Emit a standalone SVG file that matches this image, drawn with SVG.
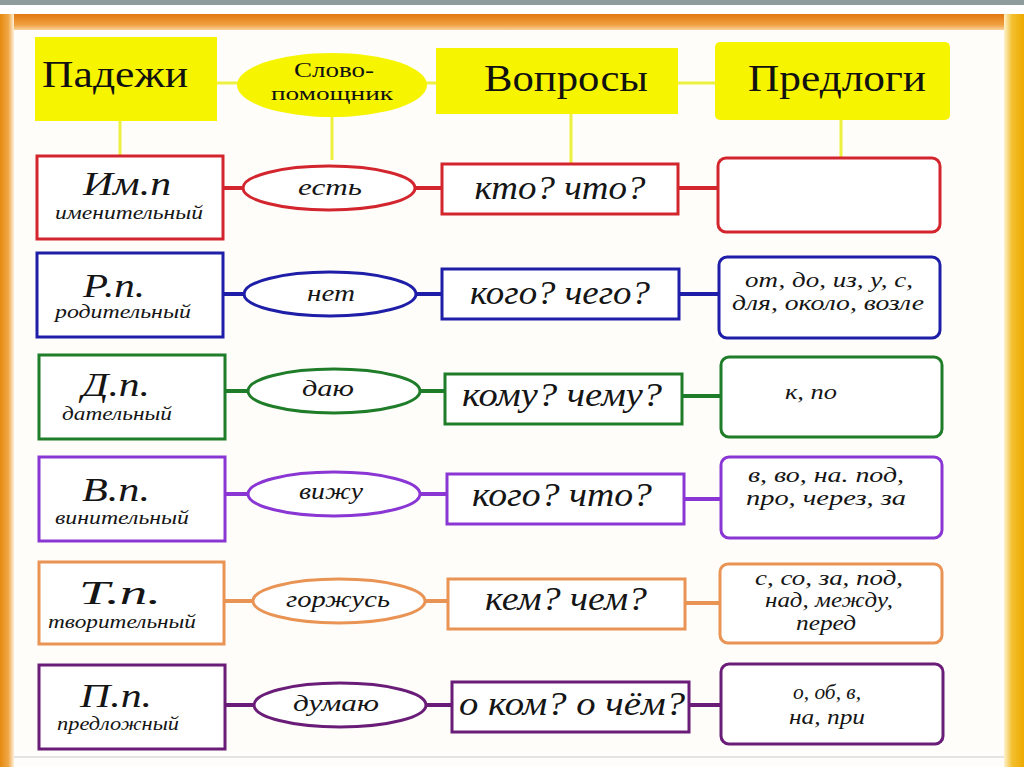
<svg xmlns="http://www.w3.org/2000/svg" width="1024" height="767" viewBox="0 0 1024 767" font-family="Liberation Serif, Times New Roman, serif">
<defs>
<linearGradient id="topband" x1="0" y1="0" x2="0" y2="1">
<stop offset="0" stop-color="#e27610"/><stop offset="0.6" stop-color="#f0a040"/><stop offset="1" stop-color="#fde6c0"/>
</linearGradient>
<linearGradient id="leftband" x1="0" y1="0" x2="1" y2="0">
<stop offset="0" stop-color="#e58a10"/><stop offset="0.6" stop-color="#f0a848"/><stop offset="1" stop-color="#fdf0dc"/>
</linearGradient>
<linearGradient id="rightband" x1="0" y1="0" x2="1" y2="0">
<stop offset="0" stop-color="#fdf2d0"/><stop offset="0.4" stop-color="#f3c030"/><stop offset="1" stop-color="#eeaa00"/>
</linearGradient>
</defs>
<style>
.hdr{fill:#f7f400}
.hl{stroke:#eef040;stroke-width:3;fill:none}
.ht{fill:#111;text-anchor:middle}
.box{fill:#fff;stroke-width:3}
.t{font-style:italic;fill:#151515;text-anchor:middle}
.big{font-size:34px}
.sm{font-size:18px}
.ov{font-size:23px}
.q{font-size:34px}
.p{font-size:20px}
.c{stroke-width:4;fill:none}
.red{stroke:#d3252e}.blue{stroke:#1e1ea8}.green{stroke:#1f7d2a}.vio{stroke:#8a36d4}.org{stroke:#e99455}.plum{stroke:#6a1d78}
</style>
<rect x="0" y="0" width="1024" height="767" fill="#ffffff"/>
<rect x="0" y="0" width="1024" height="5" fill="#8e9d9c"/>
<rect x="0" y="14" width="1024" height="18" fill="url(#topband)"/>
<rect x="0" y="14" width="14" height="753" fill="url(#leftband)"/>
<rect x="1004" y="14" width="20" height="753" fill="url(#rightband)"/>
<rect x="14" y="30" width="990" height="737" fill="#fefdf9"/>
<rect x="14" y="756" width="990" height="2" fill="#e4e4e4"/>

<g id="connectors">
<line class="hl" x1="217" y1="83" x2="238" y2="83"/>
<line class="hl" x1="426" y1="83" x2="437" y2="83"/>
<line class="hl" x1="678" y1="83" x2="715" y2="83"/>
<line class="hl" x1="120" y1="121" x2="120" y2="155"/>
<line class="hl" x1="332" y1="117" x2="332" y2="160"/>
<line class="hl" x1="571" y1="114" x2="571" y2="163"/>
<line class="hl" x1="841" y1="120" x2="841" y2="157"/>
<g class="c red"><line x1="223" y1="188" x2="244" y2="188"/><line x1="415" y1="188" x2="442" y2="188"/><line x1="678" y1="188" x2="718" y2="188"/></g>
<g class="c blue"><line x1="223" y1="294" x2="245" y2="294"/><line x1="415" y1="294" x2="442" y2="294"/><line x1="679" y1="294" x2="719" y2="294"/></g>
<g class="c green"><line x1="225" y1="391" x2="249" y2="391"/><line x1="419" y1="391" x2="445" y2="391"/><line x1="682" y1="396" x2="721" y2="396"/></g>
<g class="c vio"><line x1="225" y1="494" x2="249" y2="494"/><line x1="419" y1="494" x2="447" y2="494"/><line x1="684" y1="499" x2="721" y2="499"/></g>
<g class="c org"><line x1="224" y1="601" x2="254" y2="601"/><line x1="424" y1="601" x2="448" y2="601"/><line x1="685" y1="603" x2="720" y2="603"/></g>
<g class="c plum"><line x1="225" y1="705" x2="255" y2="705"/><line x1="426" y1="705" x2="452" y2="705"/><line x1="689" y1="705" x2="721" y2="705"/></g>
</g>

<g id="h-padezhi"><rect class="hdr" x="35" y="37" width="182" height="84"/><text class="ht" x="115" y="87" font-size="38" textLength="146" lengthAdjust="spacingAndGlyphs">Падежи</text></g>
<g id="h-slovo"><ellipse class="hdr" cx="332" cy="85" rx="95" ry="32"/><text class="ht" x="334" y="77" font-size="20" textLength="80" lengthAdjust="spacingAndGlyphs">Слово-</text><text class="ht" x="332" y="100" font-size="19" textLength="122" lengthAdjust="spacingAndGlyphs">помощник</text></g>
<g id="h-voprosy"><rect class="hdr" x="436" y="48" width="242" height="66"/><text class="ht" x="566" y="91" font-size="38" textLength="164" lengthAdjust="spacingAndGlyphs">Вопросы</text></g>
<g id="h-predlogi"><rect class="hdr" x="715" y="42" width="235" height="78" rx="5"/><text class="ht" x="837" y="91" font-size="38" textLength="178" lengthAdjust="spacingAndGlyphs">Предлоги</text></g>

<g id="r1-case"><rect class="box red" x="37" y="156" width="186" height="83"/><text class="t big" x="127" y="195" textLength="88" lengthAdjust="spacingAndGlyphs">Им.п</text><text class="t sm" x="129" y="219" textLength="148" lengthAdjust="spacingAndGlyphs">именительный</text></g>
<g id="r1-word"><ellipse class="box red" cx="329" cy="188" rx="86" ry="22"/><text class="t ov" x="330" y="195" textLength="64" lengthAdjust="spacingAndGlyphs">есть</text></g>
<g id="r1-q"><rect class="box red" x="442" y="164" width="236" height="50"/><text class="t q" x="560" y="199" textLength="171" lengthAdjust="spacingAndGlyphs">кто? что?</text></g>
<g id="r1-p"><rect class="box red" x="718" y="158" width="222" height="74" rx="8"/></g>

<g id="r2-case"><rect class="box blue" x="37" y="253" width="186" height="84"/><text class="t big" x="114" y="297" textLength="62" lengthAdjust="spacingAndGlyphs">Р.п.</text><text class="t sm" x="123" y="318" textLength="136" lengthAdjust="spacingAndGlyphs">родительный</text></g>
<g id="r2-word"><ellipse class="box blue" cx="330" cy="294" rx="86" ry="22"/><text class="t ov" x="331" y="301" textLength="48" lengthAdjust="spacingAndGlyphs">нет</text></g>
<g id="r2-q"><rect class="box blue" x="442" y="269" width="237" height="50"/><text class="t q" x="560" y="304" textLength="180" lengthAdjust="spacingAndGlyphs">кого? чего?</text></g>
<g id="r2-p"><rect class="box blue" x="719" y="257" width="221" height="81" rx="8"/><text class="t p" x="829" y="287" textLength="168" lengthAdjust="spacingAndGlyphs">от, до, из, у, с,</text><text class="t p" x="828" y="310" textLength="192" lengthAdjust="spacingAndGlyphs">для, около, возле</text></g>

<g id="r3-case"><rect class="box green" x="39" y="355" width="186" height="84"/><text class="t big" x="116" y="396" textLength="68" lengthAdjust="spacingAndGlyphs">Д.п.</text><text class="t sm" x="117" y="420" textLength="110" lengthAdjust="spacingAndGlyphs">дательный</text></g>
<g id="r3-word"><ellipse class="box green" cx="334" cy="391" rx="86" ry="22"/><text class="t ov" x="328" y="396" textLength="52" lengthAdjust="spacingAndGlyphs">даю</text></g>
<g id="r3-q"><rect class="box green" x="445" y="374" width="237" height="50"/><text class="t q" x="562" y="406" textLength="200" lengthAdjust="spacingAndGlyphs">кому? чему?</text></g>
<g id="r3-p"><rect class="box green" x="721" y="357" width="221" height="80" rx="8"/><text class="t p" x="811" y="399" textLength="52" lengthAdjust="spacingAndGlyphs">к, по</text></g>

<g id="r4-case"><rect class="box vio" x="39" y="457" width="186" height="84"/><text class="t big" x="116" y="501" textLength="68" lengthAdjust="spacingAndGlyphs">В.п.</text><text class="t sm" x="122" y="524" textLength="134" lengthAdjust="spacingAndGlyphs">винительный</text></g>
<g id="r4-word"><ellipse class="box vio" cx="334" cy="494" rx="86" ry="22"/><text class="t ov" x="331" y="499" textLength="64" lengthAdjust="spacingAndGlyphs">вижу</text></g>
<g id="r4-q"><rect class="box vio" x="447" y="474" width="237" height="50"/><text class="t q" x="562" y="506" textLength="180" lengthAdjust="spacingAndGlyphs">кого? что?</text></g>
<g id="r4-p"><rect class="box vio" x="721" y="457" width="221" height="81" rx="8"/><text class="t p" x="826" y="482" textLength="156" lengthAdjust="spacingAndGlyphs">в, во, на. под,</text><text class="t p" x="826" y="505" textLength="160" lengthAdjust="spacingAndGlyphs">про, через, за</text></g>

<g id="r5-case"><rect class="box org" x="39" y="562" width="185" height="82"/><text class="t big" x="120" y="604" textLength="82" lengthAdjust="spacingAndGlyphs">Т.п.</text><text class="t sm" x="122" y="628" textLength="148" lengthAdjust="spacingAndGlyphs">творительный</text></g>
<g id="r5-word"><ellipse class="box org" cx="339" cy="601" rx="86" ry="22"/><text class="t ov" x="338" y="607" textLength="104" lengthAdjust="spacingAndGlyphs">горжусь</text></g>
<g id="r5-q"><rect class="box org" x="448" y="579" width="237" height="50"/><text class="t q" x="566" y="610" textLength="162" lengthAdjust="spacingAndGlyphs">кем? чем?</text></g>
<g id="r5-p"><rect class="box org" x="720" y="564" width="222" height="79" rx="8"/><text class="t p" x="829" y="585" textLength="148" lengthAdjust="spacingAndGlyphs">с, со, за, под,</text><text class="t p" x="829" y="607" textLength="128" lengthAdjust="spacingAndGlyphs">над, между,</text><text class="t p" x="826" y="630" textLength="60" lengthAdjust="spacingAndGlyphs">перед</text></g>

<g id="r6-case"><rect class="box plum" x="39" y="665" width="186" height="84"/><text class="t big" x="116" y="707" textLength="72" lengthAdjust="spacingAndGlyphs">П.п.</text><text class="t sm" x="118" y="730" textLength="122" lengthAdjust="spacingAndGlyphs">предложный</text></g>
<g id="r6-word"><ellipse class="box plum" cx="340" cy="705" rx="86" ry="22"/><text class="t ov" x="336" y="711" textLength="86" lengthAdjust="spacingAndGlyphs">думаю</text></g>
<g id="r6-q"><rect class="box plum" x="452" y="682" width="237" height="50"/><text class="t q" x="572" y="715" textLength="226" lengthAdjust="spacingAndGlyphs">о ком? о чём?</text></g>
<g id="r6-p"><rect class="box plum" x="721" y="664" width="222" height="80" rx="8"/><text class="t p" x="827" y="699" textLength="68" lengthAdjust="spacingAndGlyphs">о, об, в,</text><text class="t p" x="827" y="724" textLength="76" lengthAdjust="spacingAndGlyphs">на, при</text></g>
</svg>
